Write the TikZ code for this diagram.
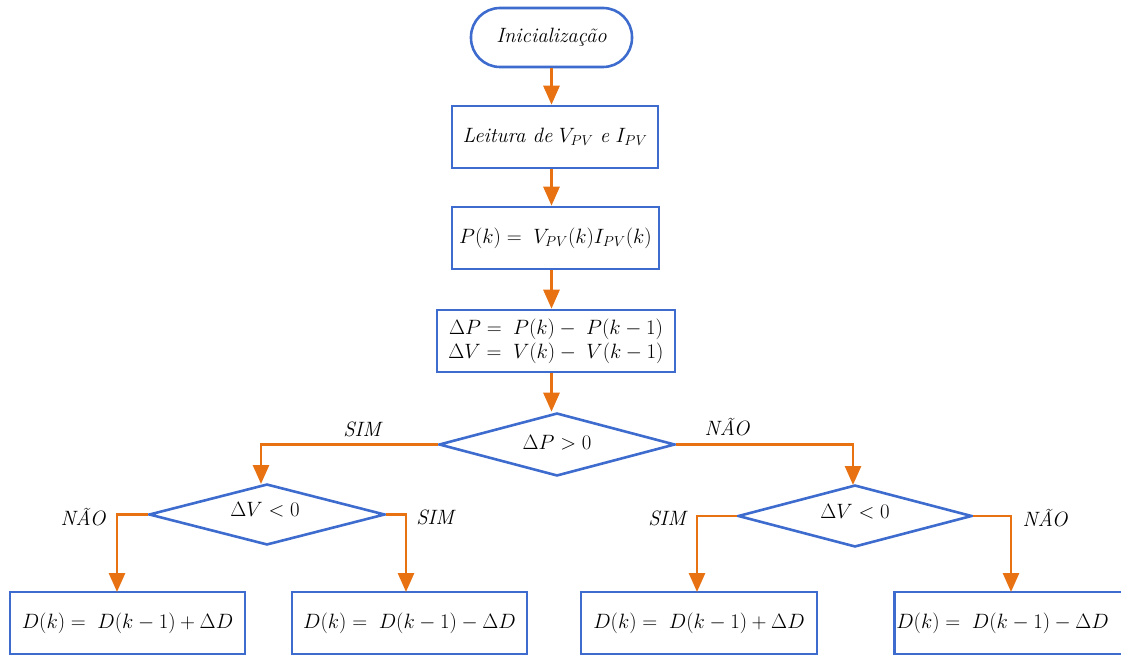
\documentclass[tikz,border=0pt]{standalone}
\usepackage{fontspec}
\usetikzlibrary{arrows.meta,shapes.geometric,calc}
\definecolor{bl}{RGB}{61,108,206}
\definecolor{org}{RGB}{232,113,18}
\newcommand\bigfont{\fontsize{20.74}{25}\selectfont}
\begin{document}
\begin{tikzpicture}[x=1pt,y=-1pt,
  every node/.style={font=\bigfont},
  stadium/.style={draw=bl,line width=2.6pt,rounded corners=29pt,inner sep=0pt},
  procbox/.style={draw=bl,line width=2.6pt,rectangle,inner sep=0pt},
  decis/.style={draw=bl,line width=2.6pt,diamond,inner sep=0pt},
  arr/.style={draw=org,line width=2.8pt,-{Triangle[width=16pt,length=19pt]}},
  lbl/.style={font=\bigfont\itshape}]
\useasboundingbox (0,0) rectangle (1121,655);
\node[stadium,minimum width=161pt,minimum height=59pt] (start) at (551.5,37.5) {\textit{Inicialização}};
\node[procbox,minimum width=206pt,minimum height=62pt] (read) at (555,137) {\textit{Leitura de} $V_{PV}$ \textit{e} $I_{PV}$};
\node[procbox,minimum width=207pt,minimum height=62pt] (pow) at (555.5,238) {$P(k) =\; V_{PV}(k) I_{PV}(k)$};
\node[procbox,minimum width=238pt,minimum height=62pt,align=center] (delta) at (556,341)
  {$\Delta P =\; P(k) -\; P(k-1)$\\[-1pt] $\Delta V =\; V(k) -\; V(k-1)$};
\node[decis,minimum width=236pt,minimum height=63pt] (d1) at (557,444.5) {};
\node (t1) at (557,443) {$\Delta P > 0$};
\node[decis,minimum width=236pt,minimum height=61pt] (d2) at (267,514.5) {};
\node (t2) at (265,510) {$\Delta V < 0$};
\node[decis,minimum width=234pt,minimum height=62pt] (d3) at (855,516) {};
\node (t3) at (855,512) {$\Delta V < 0$};
\node[procbox,minimum width=235pt,minimum height=62pt] (A) at (127.5,623) {$D(k) =\; D(k-1) + \Delta D$};
\node[procbox,minimum width=235pt,minimum height=62pt] (B) at (409.5,623) {$D(k) =\; D(k-1) - \Delta D$};
\node[procbox,minimum width=236pt,minimum height=62pt] (C) at (699,623) {$D(k) =\; D(k-1) + \Delta D$};
\node[procbox,minimum width=236pt,minimum height=62pt,anchor=west,text width=234pt] (D) at (893,623) {\hspace*{1pt}$D(k) =\; D(k-1) - \Delta D$};
\coordinate (a2) at (261,484);
\coordinate (a3) at (853,485);
\coordinate (aA) at (117,592);
\coordinate (aB) at (406,592);
\coordinate (aC) at (697,592);
\coordinate (aD) at (1011,592);
\draw[arr] (start.south) -- (start.south |- read.north);
\draw[arr] (start.south |- read.south) -- (start.south |- pow.north);
\draw[arr] (start.south |- pow.south) -- (start.south |- delta.north);
\draw[arr] (start.south |- delta.south) -- (start.south |- d1.north);
\draw[arr] (d1.west) -| (a2);
\draw[arr] (d1.east) -| (a3);
\draw[arr] (d2.west) -| (aA);
\draw[arr] (d2.east) -| (aB);
\draw[arr] (d3.west) -| (aC);
\draw[arr] (d3.east) -| (aD);
\node[lbl] (l1) at (362,429) {SIM};
\node[lbl] (l2) at (727,427) {NÃO};
\node[lbl] (l3) at (83,517) {NÃO};
\node[lbl] (l4) at (435,517) {SIM};
\node[lbl] (l5) at (667,518) {SIM};
\node[lbl] (l6) at (1045,518) {NÃO};
\end{tikzpicture}
\end{document}
